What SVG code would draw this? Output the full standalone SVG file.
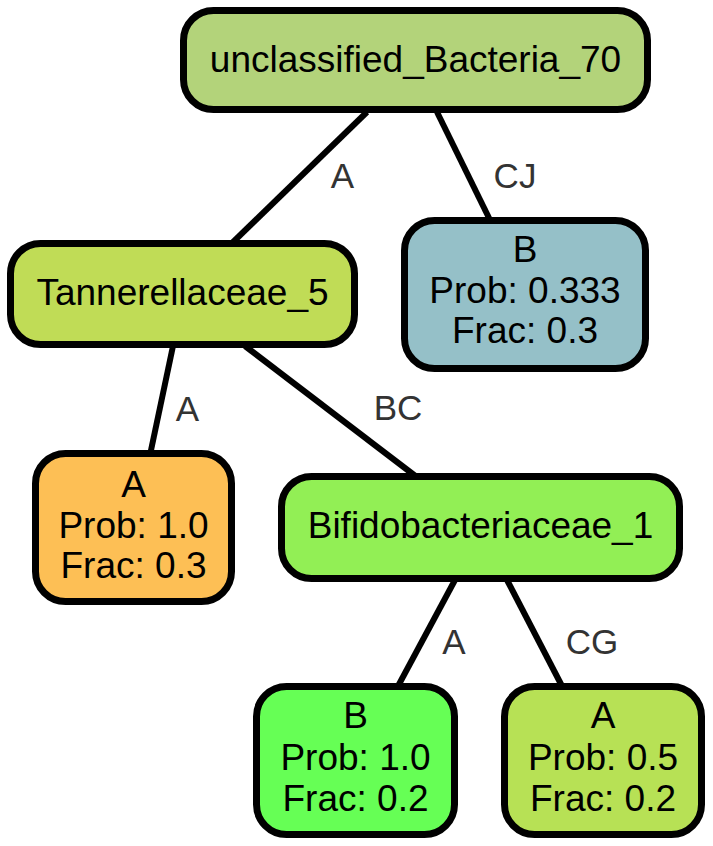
<svg xmlns="http://www.w3.org/2000/svg" width="713" height="846" viewBox="0 0 713 846">
<style>
.n{stroke:#000;stroke-width:7}
.t{font-family:"Liberation Sans",Arial,Helvetica,sans-serif;font-size:37px;fill:#000;text-anchor:middle}
.e{stroke:#000;stroke-width:6;fill:none}
.l{font-family:"Liberation Sans",Arial,Helvetica,sans-serif;font-size:35px;fill:#333;text-anchor:middle}
</style>
<rect width="713" height="846" fill="#fff"/>
<g id="connectors">
<line class="e" x1="367" y1="112" x2="230" y2="245"/>
<line class="e" x1="437" y1="112" x2="490" y2="220"/>
<line class="e" x1="173" y1="346" x2="150" y2="455"/>
<line class="e" x1="245" y1="346" x2="418" y2="478"/>
<line class="e" x1="455" y1="580" x2="397" y2="688"/>
<line class="e" x1="507" y1="580" x2="563" y2="688"/>
<text class="l" x="342.5" y="188">A</text>
<text class="l" x="515" y="188">CJ</text>
<text class="l" x="187.5" y="421">A</text>
<text class="l" x="398" y="420">BC</text>
<text class="l" x="454" y="654">A</text>
<text class="l" x="592" y="654">CG</text>
</g>
<g id="node1">
<rect class="n" x="183.5" y="10.5" width="464" height="99" rx="30" fill="#b3d37a"/>
<text class="t" x="415.5" y="72">unclassified_Bacteria_70</text>
</g>
<g id="node2">
<rect class="n" x="10.5" y="243.5" width="344" height="101" rx="30" fill="#c0dc56"/>
<text class="t" x="182.5" y="305">Tannerellaceae_5</text>
</g>
<g id="node3">
<rect class="n" x="404.5" y="220.5" width="241" height="148" rx="30" fill="#95c0c8"/>
<text class="t" x="525" y="262">B</text>
<text class="t" x="525" y="303">Prob: 0.333</text>
<text class="t" x="525" y="343">Frac: 0.3</text>
</g>
<g id="node4">
<rect class="n" x="35.5" y="453.5" width="196" height="148" rx="30" fill="#fdbf55"/>
<text class="t" x="133.5" y="497">A</text>
<text class="t" x="133.5" y="538">Prob: 1.0</text>
<text class="t" x="133.5" y="578">Frac: 0.3</text>
</g>
<g id="node5">
<rect class="n" x="281.5" y="476.5" width="398" height="102" rx="30" fill="#92ef55"/>
<text class="t" x="480.5" y="538">Bifidobacteriaceae_1</text>
</g>
<g id="node6">
<rect class="n" x="256.5" y="686.5" width="198" height="148" rx="30" fill="#66ff55"/>
<text class="t" x="355.5" y="728">B</text>
<text class="t" x="355.5" y="770">Prob: 1.0</text>
<text class="t" x="355.5" y="811">Frac: 0.2</text>
</g>
<g id="node7">
<rect class="n" x="504.5" y="686.5" width="197" height="148" rx="30" fill="#b7e155"/>
<text class="t" x="603" y="728">A</text>
<text class="t" x="603" y="770">Prob: 0.5</text>
<text class="t" x="603" y="811">Frac: 0.2</text>
</g>
</svg>
